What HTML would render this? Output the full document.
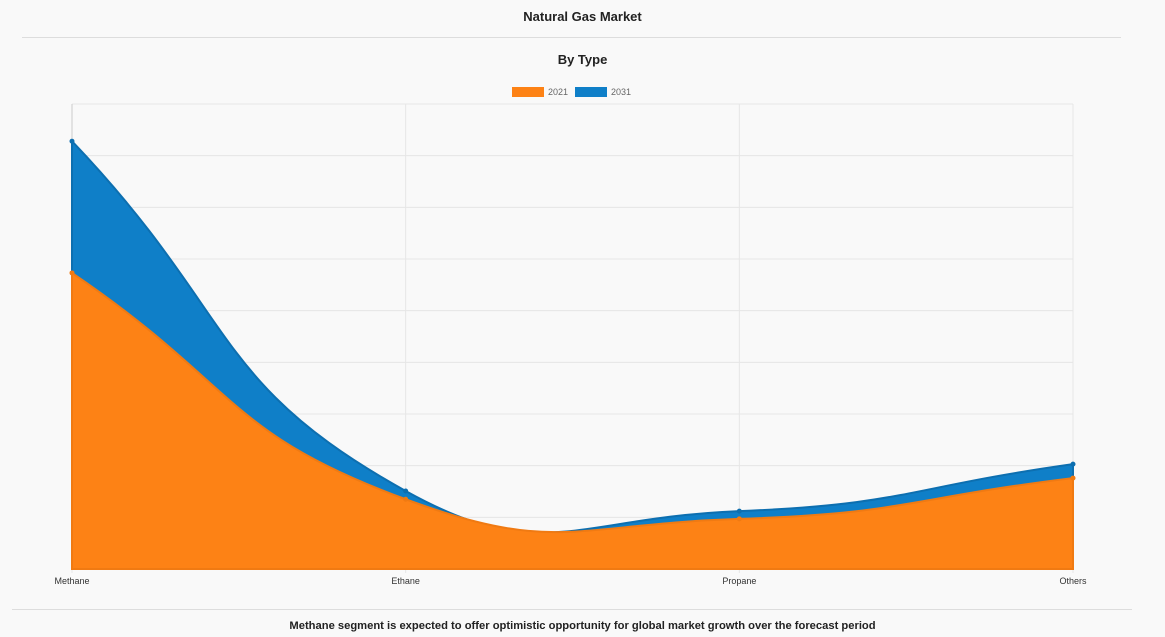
<!DOCTYPE html>
<html><head><meta charset="utf-8"><style>
body{margin:0;width:1165px;height:637px;background:#f9f9f9;font-family:"Liberation Sans",sans-serif;overflow:hidden;position:relative}
.t{position:absolute;left:0;width:1165px;text-align:center;font-weight:bold;color:#222}
</style></head><body>
<div class="t" style="top:9px;font-size:13px">Natural Gas Market</div>
<div style="position:absolute;left:22px;width:1099px;top:37px;border-top:1px solid #ddd"></div>
<div class="t" style="top:52px;font-size:13px">By Type</div>
<svg id="c" width="1165" height="637" style="position:absolute;left:0;top:0"></svg>
<div style="position:absolute;left:12px;width:1120px;top:609px;border-top:1px solid #ddd"></div>
<div class="t" style="top:620px;font-size:11.2px">Methane segment is expected to offer optimistic opportunity for global market growth over the forecast period</div>
<script>
const categories=["Methane","Ethane","Propane","Others"];
const series2021=[57.3,13.5,9.7,17.6];
const series2031=[82.8,15.1,11.2,20.3];
const seriesLabels=["2021","2031"];
const yMax=90;
const NS="http://www.w3.org/2000/svg",svg=document.getElementById('c');
const L=72,R=1073,T=104,B=569;
const x=i=>L+i*(R-L)/(categories.length-1);
const y=v=>B-v/yMax*(B-T);
function mk(t,a){const e=document.createElementNS(NS,t);for(const k in a)e.setAttribute(k,a[k]);svg.appendChild(e);return e;}
for(let g=0;g<=9;g++){const l=mk('line',{x1:L,x2:R,y1:y(g*10),y2:y(g*10),stroke:'#e6e6e6'});

}
categories.forEach((c,i)=>{const l=mk('line',{x1:x(i),x2:x(i),y1:T,y2:B+4,stroke:'#e6e6e6'});


const t=mk('text',{x:x(i),y:584,'text-anchor':'middle','font-size':9,fill:'#333'});t.textContent=c;

});
mk('line',{x1:L,x2:L,y1:T,y2:B,stroke:'#ccc'});
function path(vals){const p=vals.map((v,i)=>[x(i),y(v)]);const ts=0.5;let d=`M${p[0][0]},${p[0][1]}`;
const cp=p.map((c,i)=>{const pr=p[Math.max(0,i-1)],nx=p[Math.min(p.length-1,i+1)];
const d01=Math.hypot(c[0]-pr[0],c[1]-pr[1]),d12=Math.hypot(nx[0]-c[0],nx[1]-c[1]);
let fa=d01/(d01+d12)||0,fb=d12/(d01+d12)||0;fa*=ts;fb*=ts;
return{p:[c[0]-fa*(nx[0]-pr[0]),c[1]-fa*(nx[1]-pr[1])],n:[c[0]+fb*(nx[0]-pr[0]),c[1]+fb*(nx[1]-pr[1])]};});
for(let i=1;i<p.length;i++)d+=`C${cp[i-1].n[0]},${cp[i-1].n[1]} ${cp[i].p[0]},${cp[i].p[1]} ${p[i][0]},${p[i][1]}`;return d;}
[[series2031,'#0f7fc8','#0d6fb0','series-2031'],[series2021,'#fd8215','#f07a12','series-2021']].forEach(([v,f,s,n])=>{
const a=mk('path',{d:path(v)+`L${R},${B}L${L},${B}Z`,fill:f,stroke:s,'stroke-width':2});


v.forEach((val,i)=>{const c=mk('circle',{cx:x(i),cy:y(val),r:2.5,fill:s});

});});
[['#fd8215',512,'2021'],['#0f7fc8',575,'2031']].forEach(([f,lx,t])=>{
const r=mk('rect',{x:lx,y:87,width:32,height:10,fill:f});


const tx=mk('text',{x:lx+36,y:95,'font-size':9,fill:'#666'});tx.textContent=t;

});
</script>
</body></html>
